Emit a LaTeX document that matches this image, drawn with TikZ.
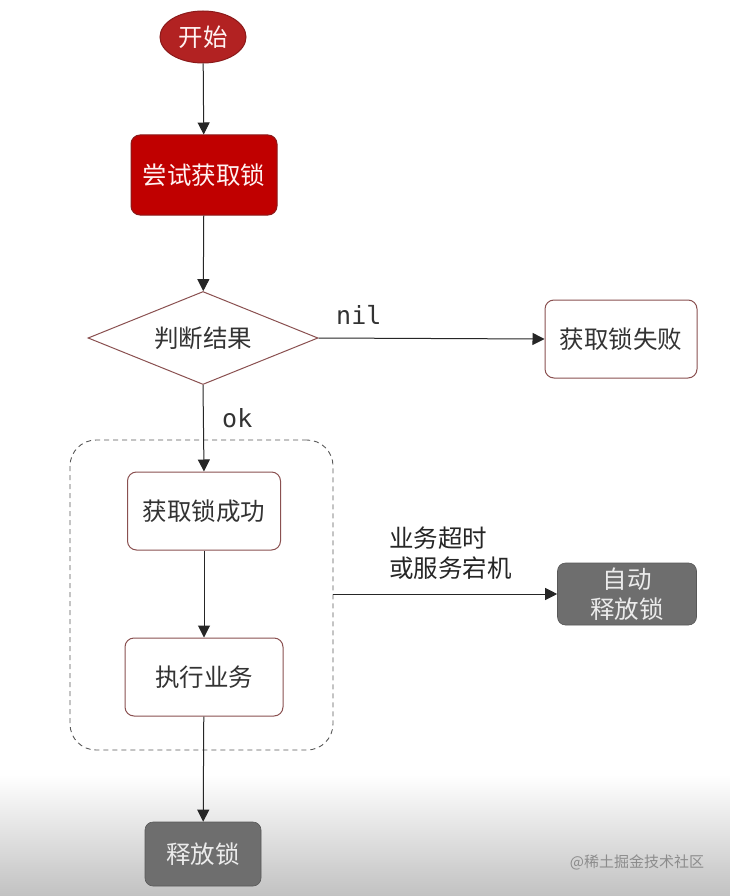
\documentclass[tikz,border=0pt]{standalone}
\usepackage{fontspec}
\setmainfont{Noto Sans CJK SC}
\newfontfamily\monof{DejaVu Sans Mono}
\usetikzlibrary{shapes.geometric,arrows.meta}
\definecolor{redfill}{HTML}{C00000}
\definecolor{ellfill}{HTML}{B22222}
\definecolor{redline}{HTML}{8B1A1A}
\definecolor{boxline}{HTML}{8A5050}
\definecolor{grayfill}{HTML}{6E6E6E}
\tikzset{
  txt/.style={font=\fontsize{24.5}{30}\selectfont, align=center, inner sep=0pt},
  whitebox/.style={txt, draw=boxline, line width=1pt, fill=white, rounded corners=9pt, text=black!80},
  redbox/.style={txt, draw=redline, line width=1pt, fill=redfill, rounded corners=9pt, text=red!5},
  graybox/.style={txt, draw=grayfill!80!black, line width=0.6pt, fill=grayfill, rounded corners=8pt, text=white!92!black},
  conn/.style={line width=1pt, draw=black!85, -{Triangle[length=12pt,width=12pt]}},
  lbl/.style={font=\monof\fontsize{25}{28}\selectfont, text=black!80, inner sep=0pt}
}
\begin{document}
\begin{tikzpicture}[x=1pt,y=-1pt]
\useasboundingbox (0,0) rectangle (730,896);
\fill[white] (0,0) rectangle (730,896);
\shade[top color=white, bottom color=black!24] (0,775) rectangle (730,896);

\node[ellipse, txt, draw=redline, line width=1pt, fill=ellfill, text=red!5, minimum width=86pt, minimum height=52pt] (start) at (203,37) {开始};
\node[redbox, minimum width=146pt, minimum height=80pt] (try) at (204,175) {尝试获取锁};
\node[diamond, txt, draw=boxline, line width=1pt, fill=white, text=black!80, aspect=2.47, minimum width=230pt, minimum height=93pt, inner sep=0pt] (judge) at (203,338) {判断结果};
\node[whitebox, minimum width=152pt, minimum height=78pt] (fail) at (621,339) {获取锁失败};
\node[whitebox, minimum width=153pt, minimum height=78pt] (succ) at (204,511) {获取锁成功};
\node[whitebox, minimum width=158pt, minimum height=78pt] (exec) at (204,677) {执行业务};
\node[graybox, minimum width=116pt, minimum height=64pt] (rel) at (203,854) {释放锁};
\node[graybox, minimum width=139pt, minimum height=62pt] (auto) at (627,594) {自动\\释放锁};

\node[draw=black!65, dash pattern=on 5pt off 4pt, line width=0.9pt, rounded corners=26pt, minimum width=263pt, minimum height=310pt, inner sep=0pt] (group) at (201.5,595) {};

\draw[conn] (start) -- (try);
\draw[conn] (try) -- (judge);
\draw[conn] (judge.east) -- (fail.west);
\draw[conn] (judge.south) -- (succ.north);
\draw[conn] (succ) -- (exec);
\draw[conn] (exec) -- (rel);
\draw[conn] (group.east |- auto.west) -- (auto.west);

\node[lbl, anchor=west] (nil) at (336,315) {nil};
\node[lbl, anchor=west] (ok) at (222,418) {ok};
\node[txt, align=left, anchor=west, text=black!85] (why) at (389,553) {业务超时\\或服务宕机};
\node[txt, anchor=center, text=black!45, font=\fontsize{15}{17}\selectfont] (wm) at (637,862) {@稀土掘金技术社区};
\end{tikzpicture}
\end{document}
